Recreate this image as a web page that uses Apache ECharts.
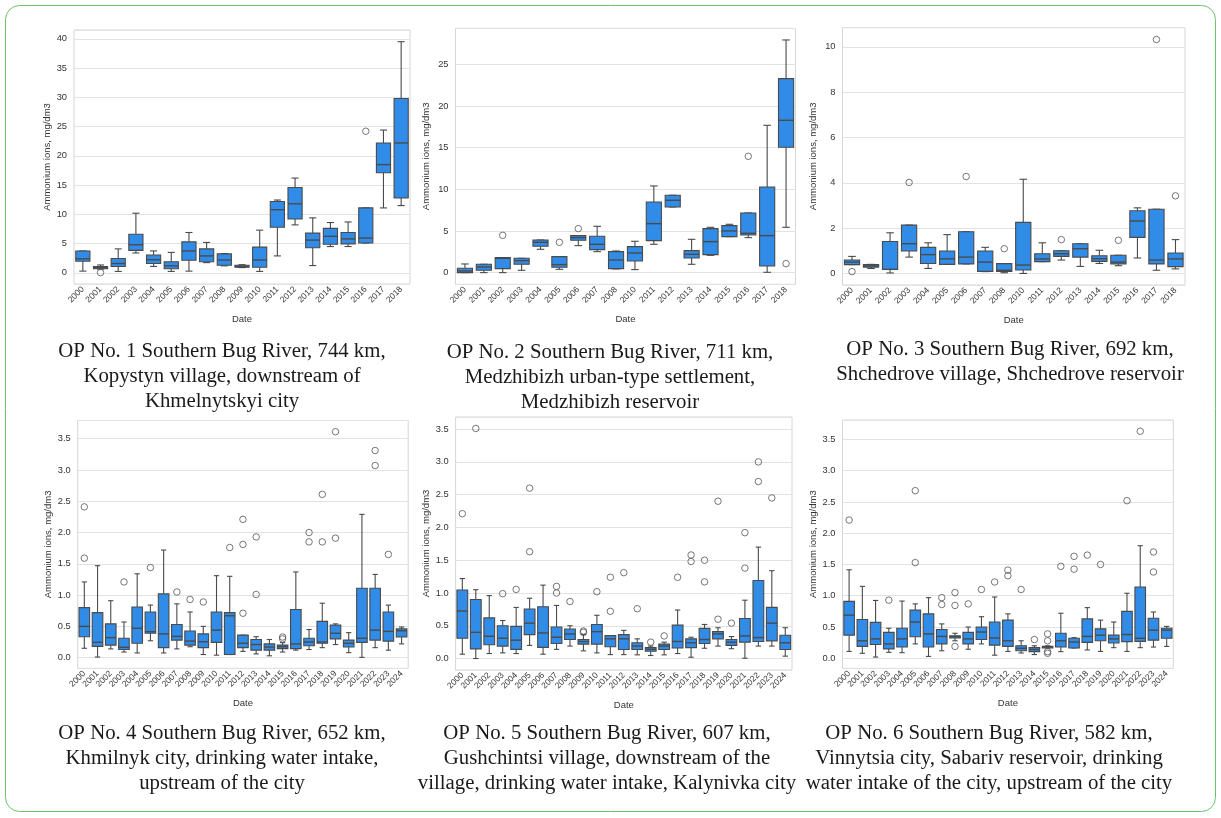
<!DOCTYPE html>
<html><head><meta charset="utf-8">
<script src="https://cdn.jsdelivr.net/npm/echarts@6/dist/echarts.min.js"></script>
<style>html,body{margin:0;padding:0;background:#fff}#c{width:1221px;height:818px}</style>
</head><body><div id="c"></div>
<script>
// ---------- DATA ----------
const yAxisTitle = 'Ammonium ions, mg/dm3';
const xAxisTitle = 'Date';

const p1Years = ['2000','2001','2002','2003','2004','2005','2006','2007','2008','2009','2010','2011','2012','2013','2014','2015','2016','2017','2018'];
// [min, q1, median, q3, max]
const p1Box = [[0.3,2.0,2.4,3.75,3.75],[0.65,0.7,0.9,1.1,1.35],[0.25,1.1,1.6,2.45,4.1],[3.4,3.85,4.8,6.6,10.2],[1.1,1.6,2.25,3.05,3.75],[0.25,0.7,1.2,1.9,3.5],[0.3,2.15,3.75,5.3,6.9],[1.75,1.9,2.9,4.1,5.2],[1.2,1.3,2.2,3.25,3.3],[0.9,0.97,1.1,1.3,1.4],[0.25,0.97,2.2,4.4,7.3],[2.9,7.8,10.8,12.2,12.45],[8.2,9.2,11.8,14.6,16.2],[1.25,4.3,5.6,6.8,9.4],[4.5,4.9,6.25,7.6,8.6],[4.5,4.95,5.8,6.9,8.7],[5.1,5.1,5.95,11.1,11.1],[11.1,17.1,18.5,22.2,24.4],[11.5,12.8,22.2,29.8,39.5]];
const p1Out = [['2001',0.05],['2016',24.2]];
const p1Caption = 'OP No. 1 Southern Bug River, 744 km,\nKopystyn village, downstream of\nKhmelnytskyi city';

const p2Years = ['2000','2001','2002','2003','2004','2005','2006','2007','2008','2010','2011','2012','2013','2014','2015','2016','2017','2018'];
const p2Box = [[0,0,0.2,0.52,1.04],[0,0.28,0.68,1.0,1.0],[0,0.48,1.72,1.8,1.8],[0.28,1.0,1.44,1.72,1.72],[2.8,3.16,3.64,3.92,3.92],[0.4,0.64,0.96,1.92,1.92],[3.24,3.88,4.2,4.44,4.44],[2.52,2.76,3.4,4.36,5.56],[0.44,0.48,1.52,2.52,2.6],[0.36,1.4,2.36,3.12,3.76],[3.4,3.84,5.88,8.48,10.4],[7.88,7.88,8.68,9.28,9.28],[1.0,1.76,2.2,2.64,4.0],[2.08,2.16,3.72,5.28,5.44],[4.32,4.32,5.0,5.64,5.8],[4.2,4.52,4.72,7.16,7.16],[0.04,0.8,4.44,10.28,17.68],[5.44,15.04,18.28,23.28,27.92]];
const p2Out = [['2002',4.48],['2005',3.64],['2006',5.28],['2016',13.96],['2018',1.08]];
const p2Caption = 'OP No. 2 Southern Bug River, 711 km,\nMedzhibizh urban-type settlement,\nMedzhibizh reservoir';

const p3Years = ['2000','2001','2002','2003','2004','2005','2006','2007','2008','2010','2011','2012','2013','2014','2015','2016','2017','2018'];
const p3Box = [[0.4,0.4,0.51,0.6,0.76],[0.23,0.29,0.34,0.4,0.41],[0.03,0.18,0.19,1.42,1.8],[0.73,1.0,1.32,2.14,2.14],[0.23,0.45,0.84,1.16,1.36],[0.41,0.41,0.65,1.0,1.72],[0.43,0.43,0.73,1.85,1.85],[0.09,0.1,0.51,1.0,1.16],[0.04,0.1,0.15,0.44,0.44],[0.01,0.16,0.38,2.26,4.16],[0.53,0.53,0.65,0.88,1.36],[0.6,0.76,0.88,1.01,1.01],[0.32,0.73,1.1,1.32,1.32],[0.45,0.54,0.66,0.79,1.03],[0.35,0.43,0.51,0.81,0.81],[0.69,1.6,2.32,2.77,2.9],[0.15,0.43,0.6,2.84,2.84],[0.21,0.31,0.65,0.91,1.5]];
const p3Out = [['2000',0.09],['2003',4.02],['2006',4.28],['2008',1.1],['2012',1.5],['2015',1.47],['2017',10.32],['2018',3.43]];
const p3Caption = 'OP No. 3 Southern Bug River, 692 km,\nShchedrove village, Shchedrove reservoir';

const p4Years = ['2000','2001','2002','2003','2004','2005','2006','2007','2008','2009','2010','2011','2012','2013','2014','2015','2016','2017','2018','2019','2020','2021','2022','2023','2024'];
const p4Box = [[0.15,0.335,0.5,0.8,1.21],[0.01,0.18,0.245,0.72,1.47],[0.14,0.2,0.32,0.54,0.91],[0.09,0.13,0.165,0.31,0.57],[0.075,0.23,0.47,0.81,1.34],[0.27,0.39,0.415,0.73,0.84],[0.075,0.16,0.38,1.02,1.72],[0.14,0.28,0.34,0.53,0.86],[0.175,0.2,0.265,0.425,0.73],[0.05,0.16,0.255,0.38,0.5],[0.04,0.245,0.44,0.73,1.31],[0.05,0.05,0.67,0.72,1.3],[0.1,0.16,0.23,0.36,0.36],[0.06,0.12,0.21,0.29,0.335],[0.03,0.12,0.17,0.22,0.29],[0.09,0.145,0.175,0.2,0.24],[0.12,0.145,0.22,0.77,1.37],[0.13,0.19,0.25,0.31,0.45],[0.16,0.23,0.25,0.58,0.87],[0.21,0.3,0.39,0.52,0.54],[0.08,0.17,0.23,0.28,0.4],[0.005,0.245,0.31,1.11,2.29],[0.16,0.28,0.44,1.11,1.33],[0.12,0.265,0.42,0.73,0.84],[0.22,0.33,0.43,0.46,0.49]];
const p4Out = [['2000',1.59],['2000',2.41],['2003',1.21],['2005',1.44],['2007',1.05],['2008',0.93],['2009',0.89],['2011',1.76],['2012',0.71],['2012',1.81],['2012',2.21],['2013',1.01],['2013',1.93],['2015',0.30],['2015',0.33],['2017',1.85],['2017',2.0],['2018',1.85],['2018',2.61],['2019',1.91],['2019',3.61],['2022',3.07],['2022',3.31],['2023',1.65]];
const p4Caption = 'OP No. 4 Southern Bug River, 652 km,\nKhmilnyk city, drinking water intake,\nupstream of the city';

const p5Years = ['2000','2001','2002','2003','2004','2005','2006','2007','2008','2009','2010','2011','2012','2013','2014','2015','2016','2017','2018','2019','2020','2021','2022','2023','2024'];
const p5Box = [[0.066,0.31,0.725,1.045,1.22],[0,0.147,0.4,0.9,1.05],[0.076,0.21,0.34,0.62,0.96],[0.086,0.19,0.31,0.5,0.58],[0.076,0.14,0.28,0.49,0.78],[0.2,0.365,0.54,0.755,0.92],[0.066,0.17,0.39,0.79,1.12],[0.14,0.23,0.325,0.48,0.81],[0.19,0.29,0.375,0.45,0.5],[0.117,0.22,0.26,0.29,0.365],[0.086,0.22,0.41,0.52,0.66],[0.06,0.18,0.3,0.35,0.35],[0.06,0.137,0.3,0.365,0.43],[0.056,0.137,0.19,0.24,0.3],[0.046,0.11,0.14,0.167,0.19],[0.056,0.137,0.19,0.22,0.25],[0.076,0.16,0.26,0.51,0.74],[0.02,0.167,0.24,0.3,0.325],[0.157,0.23,0.29,0.46,0.52],[0.19,0.3,0.375,0.41,0.47],[0.15,0.2,0.25,0.29,0.335],[0.005,0.25,0.345,0.61,0.89],[0.19,0.26,0.32,1.19,1.7],[0.19,0.27,0.54,0.78,1.34],[0.036,0.137,0.24,0.355,0.47]];
const p5Out = [['2000',2.21],['2001',3.51],['2003',0.99],['2004',1.055],['2005',1.63],['2005',2.6],['2007',1.0],['2007',1.1],['2008',0.87],['2009',0.40],['2009',0.42],['2010',1.02],['2011',0.72],['2011',1.24],['2012',1.31],['2013',0.76],['2014',0.25],['2015',0.345],['2016',1.24],['2017',1.48],['2017',1.58],['2018',1.17],['2018',1.5],['2019',0.6],['2019',2.4],['2020',0.54],['2021',1.38],['2021',1.92],['2022',2.7],['2022',3.0],['2023',2.45]];
const p5Caption = 'OP No. 5 Southern Bug River, 607 km,\nGushchintsi village, downstream of the\nvillage, drinking water intake, Kalynivka city';

const p6Years = ['2000','2001','2002','2003','2004','2005','2006','2007','2008','2009','2010','2011','2012','2013','2014','2015','2016','2017','2018','2019','2020','2021','2022','2023','2024'];
const p6Box = [[0.11,0.37,0.69,0.91,1.415],[0.08,0.19,0.28,0.62,1.15],[0.02,0.22,0.31,0.575,0.925],[0.095,0.15,0.23,0.415,0.48],[0.09,0.18,0.31,0.48,0.915],[0.23,0.345,0.58,0.77,0.87],[0.03,0.18,0.39,0.71,0.97],[0.12,0.23,0.35,0.46,0.55],[0.28,0.325,0.345,0.36,0.4],[0.145,0.23,0.31,0.415,0.5],[0.23,0.3,0.42,0.5,0.665],[0.05,0.21,0.325,0.58,0.98],[0.11,0.19,0.28,0.61,0.71],[0.085,0.12,0.16,0.2,0.28],[0.06,0.106,0.14,0.17,0.2],[0.165,0.165,0.18,0.19,0.2],[0.106,0.18,0.28,0.4,0.72],[0.165,0.165,0.26,0.32,0.33],[0.133,0.255,0.35,0.63,0.81],[0.11,0.28,0.37,0.47,0.61],[0.17,0.245,0.31,0.37,0.58],[0.11,0.266,0.38,0.75,1.04],[0.17,0.27,0.32,1.14,1.8],[0.18,0.29,0.45,0.64,0.74],[0.19,0.32,0.45,0.48,0.51]];
const p6Out = [['2000',2.21],['2003',0.93],['2005',1.53],['2005',2.68],['2007',0.86],['2007',0.97],['2008',0.19],['2008',0.845],['2008',1.05],['2009',0.87],['2010',1.1],['2011',1.22],['2012',1.32],['2012',1.41],['2013',1.1],['2014',0.3],['2015',0.08],['2015',0.106],['2015',0.28],['2015',0.39],['2016',1.47],['2017',1.425],['2017',1.63],['2018',1.65],['2019',1.5],['2021',2.52],['2022',3.63],['2023',1.38],['2023',1.7]];
const p6Caption = 'OP No. 6 Southern Bug River, 582 km,\nVinnytsia city, Sabariv reservoir, drinking\nwater intake of the city, upstream of the city';

// ---------- LAYOUT / STYLE ----------
const FILL = '#318ce7', EDGE = '#4a4a4a', GRIDC = '#e2e2e2', FRAMEC = '#d6d6d6', TXT = '#333';
const panels = [
  {years:p1Years, box:p1Box, out:p1Out, cap:p1Caption, grid:{left:74, top:30, width:336, height:254}, y:[-1.9,41.5,5,0], nameGap:22, capX:222, capY:339},
  {years:p2Years, box:p2Box, out:p2Out, cap:p2Caption, grid:{left:455.5, top:28.3, width:340, height:256}, y:[-1.4,29.32,5,0], nameGap:24, capX:610, capY:340},
  {years:p3Years, box:p3Box, out:p3Out, cap:p3Caption, grid:{left:842.5, top:27.7, width:342.5, height:257.3}, y:[-0.5,10.84,2,0], nameGap:24, capX:1010, capY:337},
  {years:p4Years, box:p4Box, out:p4Out, cap:p4Caption, grid:{left:77.7, top:420.5, width:330.5, height:247.8}, y:[-0.17,3.79,0.5,1], nameGap:24, capX:222, capY:721},
  {years:p5Years, box:p5Box, out:p5Out, cap:p5Caption, grid:{left:455.6, top:417, width:336.4, height:253}, y:[-0.175,3.685,0.5,1], nameGap:24, capX:607, capY:721},
  {years:p6Years, box:p6Box, out:p6Out, cap:p6Caption, grid:{left:842.5, top:420, width:330.8, height:248.3}, y:[-0.16,3.81,0.5,1], nameGap:24, capX:989, capY:721}
];

function renderBox(params, api) {
  const xi = api.value(0);
  const lo = api.coord([xi, api.value(1)]);
  const q1 = api.coord([xi, api.value(2)]);
  const md = api.coord([xi, api.value(3)]);
  const q3 = api.coord([xi, api.value(4)]);
  const hi = api.coord([xi, api.value(5)]);
  const band = api.size([1, 0])[0];
  const w = band * 0.8, cw = w * 0.5, x = lo[0];
  const ls = {stroke: EDGE, lineWidth: 1.1};
  return {type: 'group', children: [
    {type: 'line', shape: {x1: x, y1: q1[1], x2: x, y2: lo[1]}, style: ls},
    {type: 'line', shape: {x1: x, y1: q3[1], x2: x, y2: hi[1]}, style: ls},
    {type: 'line', shape: {x1: x - cw / 2, y1: lo[1], x2: x + cw / 2, y2: lo[1]}, style: ls},
    {type: 'line', shape: {x1: x - cw / 2, y1: hi[1], x2: x + cw / 2, y2: hi[1]}, style: ls},
    {type: 'rect', shape: {x: x - w / 2, y: q3[1], width: w, height: Math.max(q1[1] - q3[1], 0.5)}, style: {fill: FILL, stroke: EDGE, lineWidth: 1.1}},
    {type: 'line', shape: {x1: x - w / 2, y1: md[1], x2: x + w / 2, y2: md[1]}, style: {stroke: EDGE, lineWidth: 1.4}}
  ]};
}

const grids = [], xAxes = [], yAxes = [], series = [], graphics = [];
panels.forEach((p, i) => {
  grids.push(Object.assign({show: true, borderColor: FRAMEC, borderWidth: 1, backgroundColor: 'transparent', containLabel: false}, p.grid));
  xAxes.push({type: 'category', gridIndex: i, data: p.years, boundaryGap: true,
    name: xAxisTitle, nameLocation: 'middle', nameGap: 30,
    nameTextStyle: {fontSize: 9.5, color: TXT, fontFamily: 'Liberation Sans'},
    axisLine: {show: false}, axisTick: {show: false}, splitLine: {show: false},
    axisLabel: {rotate: 45, interval: 0, fontSize: 8.5, color: TXT, margin: 4, fontFamily: 'Liberation Sans'}});
  const [mn, mx, step, dec] = p.y;
  yAxes.push({type: 'value', gridIndex: i, min: mn, max: mx, minInterval: step, maxInterval: step,
    name: yAxisTitle, nameLocation: 'middle', nameRotate: 90, nameGap: p.nameGap,
    nameTextStyle: {fontSize: 9.5, color: TXT, fontFamily: 'Liberation Sans'},
    axisLine: {show: false}, axisTick: {show: false},
    axisLabel: {fontSize: 9.3, color: TXT, margin: 7, showMinLabel: false, showMaxLabel: false, fontFamily: 'Liberation Sans',
      formatter: v => { const r = v / step; if (Math.abs(r - Math.round(r)) > 1e-6) return ''; return dec ? (Math.round(r) * step).toFixed(1) : String(Math.round(r) * step); }},
    splitLine: {lineStyle: {color: GRIDC, width: 1}}});
  series.push({type: 'custom', xAxisIndex: i, yAxisIndex: i, renderItem: renderBox, silent: true,
    encode: {x: 0, y: [1, 2, 3, 4, 5]},
    data: p.box.map((b, k) => [k].concat(b))});
  series.push({type: 'scatter', xAxisIndex: i, yAxisIndex: i, silent: true, symbol: 'circle', symbolSize: 6.5,
    itemStyle: {color: 'rgba(0,0,0,0)', borderColor: '#555', borderWidth: 1},
    data: p.out.map(o => [p.years.indexOf(o[0]), o[1]])});
  graphics.push({type: 'text', x: p.capX, y: p.capY, silent: true,
    style: {text: p.cap, x: 0, y: 0, textAlign: 'center', textVerticalAlign: 'top', fill: '#1a1a1a',
      font: '20.8px "Liberation Serif"', lineHeight: 25}});
});
graphics.push({type: 'rect', silent: true, z: -1,
  shape: {x: 5.5, y: 5.5, width: 1210, height: 806, r: 14},
  style: {fill: 'none', stroke: '#6cc26c', lineWidth: 1}});

const chart = echarts.init(document.getElementById('c'), null, {renderer: 'canvas'});
chart.setOption({animation: false, backgroundColor: '#fff', grid: grids, xAxis: xAxes, yAxis: yAxes, series: series, graphic: graphics});
</script></body></html>
